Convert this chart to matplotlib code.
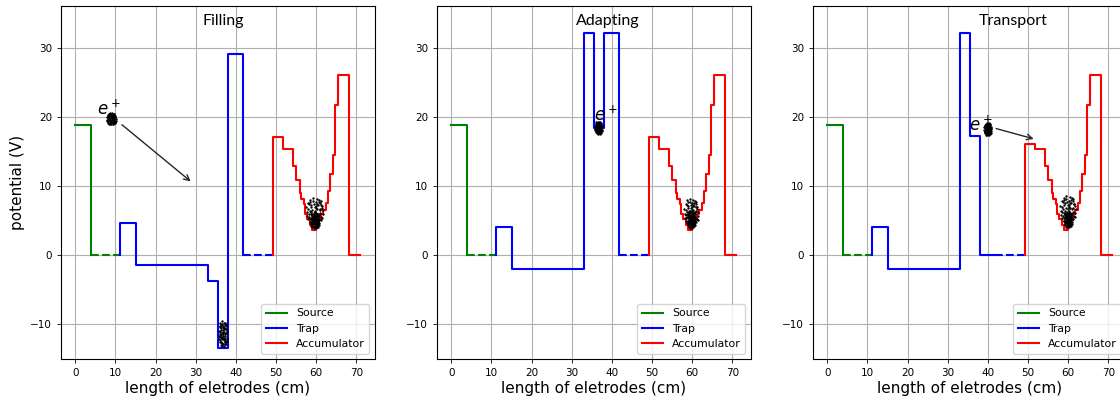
import matplotlib
matplotlib.use("Agg")
import matplotlib.pyplot as plt
import numpy as np

# electrode layout along the beam line (cm)
source_x = [0, 3.8]
source_v = [18.8, 0]
source_gap = [3.8, 11.2]

trap_x = [11.2, 11.2, 15.2, 33.0, 35.5, 38.1, 41.8]
trap_filling = [0, 4.6, -1.45, -3.8, -13.4, 29.0, 0]
trap_adapting = [0, 4.0, -2.0, 32.1, 18.4, 32.1, 0]
trap_transport = [0, 4.0, -2.0, 32.1, 17.2, 0, 0]
trap_gap = [41.8, 49.3]

acc_x = [49.3, 49.3, 51.8, 54.3, 55.0, 55.9, 56.3, 56.9, 57.3, 57.8, 58.4, 59.0,
         60.0, 60.6, 61.2, 61.7, 62.4, 62.9, 63.5, 64.2, 64.8, 65.4, 68.3, 71.0]
acc_filling = [0, 17.1, 15.4, 12.9, 10.8, 9.0, 8.1, 7.4, 5.9, 5.2, 4.3, 3.6,
               4.3, 5.1, 5.9, 6.5, 7.5, 9.2, 11.8, 14.5, 21.7, 26.1, 0, 0]
acc_transport = [0, 16.1, 15.4, 12.9, 10.8, 9.0, 8.1, 7.4, 5.9, 5.2, 4.3, 3.6,
                 4.3, 5.1, 5.9, 6.5, 7.5, 9.2, 11.8, 14.5, 21.7, 26.1, 0, 0]

titles = ["Filling", "Adapting", "Transport"]
title_x = [36.8, 39.0, 46.3]
trap_levels = [trap_filling, trap_adapting, trap_transport]
acc_levels = [acc_filling, acc_filling, acc_transport]

# positron clouds: centre x, centre y, half width, half height
clouds = [
    [(9.0, 19.7, 1.3, 0.9), (36.8, -11.4, 1.2, 1.9),
     (59.7, 6.4, 2.4, 1.9), (59.7, 5.0, 1.2, 1.2)],
    [(36.7, 18.4, 1.0, 0.95),
     (59.8, 6.2, 2.0, 2.0), (59.8, 5.1, 1.1, 1.3)],
    [(40.0, 18.2, 1.0, 0.95),
     (60.0, 6.6, 2.2, 2.0), (60.0, 5.1, 1.1, 1.2)],
]
cloud_dx = [0.12, -0.45, 0.63, -0.21, 0.35, -0.72, 0.05, 0.48, -0.33, 0.81,
            -0.58, 0.27, -0.09, 0.66, -0.84, 0.19, -0.41, 0.52, -0.16, 0.74,
            -0.63, 0.38, 0.01, -0.27, 0.57, -0.51, 0.23, -0.69, 0.44, -0.04,
            0.87, -0.36, 0.15, -0.78, 0.61, -0.19, 0.31, -0.55, 0.08, 0.69,
            -0.13, 0.42, -0.88, 0.26, -0.47, 0.55, -0.24, 0.11, 0.78, -0.66,
            0.34, -0.02, -0.39, 0.47, -0.71, 0.21, 0.59, -0.30, 0.04, -0.52]
cloud_dy = [0.35, -0.22, 0.41, 0.77, -0.58, 0.18, -0.11, 0.03, -0.64, -0.27,
            0.52, -0.91, 0.56, -0.49, -0.12, 0.88, 0.29, -0.15, -0.39, 0.22,
            -0.44, 0.67, -0.79, 0.08, 0.61, -0.81, 0.14, 0.63, -0.34, 0.31,
            0.05, -0.09, -0.47, -0.38, -0.72, 0.96, 0.46, 0.02, 0.19, 0.37,
            -0.66, 0.83, 0.27, -0.26, 0.71, 0.12, -0.87, 0.64, -0.54, -0.21,
            -0.79, -0.33, 0.44, -0.62, -0.61, 0.49, 0.74, -0.30, 0.02, 0.85]

# e+ labels and arrows (label x, label y, arrow start, arrow end)
labels = [(5.3, 20.3), (35.6, 19.4), (35.4, 18.0)]
arrows = [((11.1, 19.1), (29.3, 10.4)), None, ((41.4, 18.4), (52.1, 16.7))]

W, H = 1120, 401
lefts = [61, 437, 813]

fig = plt.figure(figsize=(W / 100, H / 100), dpi=100)
dx = np.array(cloud_dx)
dy = np.array(cloud_dy)

for i in range(3):
    ax = fig.add_axes([lefts[i] / W, (H - 359) / H, 313.5 / W, 353 / H])
    ax.grid(True, color="#b0b0b0", lw=0.8)
    ax.set_axisbelow(True)

    ax.plot(source_x, source_v, color="g", lw=1.5, drawstyle="steps-post", label="Source")
    ax.plot(source_gap, [0, 0], color="g", lw=1.5, ls="--")
    ax.plot(trap_x, trap_levels[i], color="b", lw=1.5, drawstyle="steps-post", label="Trap")
    ax.plot(trap_gap, [0, 0], color="b", lw=1.5, ls="--")
    ax.plot(acc_x, acc_levels[i], color="r", lw=1.5, drawstyle="steps-post", label="Accumulator")

    ax.text(labels[i][0], labels[i][1], "$e^+$", fontsize=12)
    for cx, cy, wx, wy in clouds[i]:
        ax.scatter(cx + wx * dx, cy + wy * dy, s=3, c="k", marker="o", linewidths=0, zorder=3)
    if arrows[i] is not None:
        ax.annotate("", xy=arrows[i][1], xytext=arrows[i][0],
                    arrowprops=dict(arrowstyle="->", color="0.15", lw=1))

    ax.text(title_x[i], 33.9, titles[i], ha="center", va="center", fontsize=11.5, family="Lato")
    ax.set_ylim(-15, 36)
    ax.set_xticks(np.arange(0, 71, 10))
    ax.set_yticks([-10, 0, 10, 20, 30])
    ax.tick_params(labelsize=7.5, length=3, width=0.6)
    ax.set_xlabel("length of eletrodes (cm)", fontsize=11, labelpad=2)
    if i == 0:
        ax.set_ylabel("potential (V)", fontsize=11)
    ax.legend(loc="lower right", fontsize=7.8)

fig.savefig("out.png", dpi=100)
